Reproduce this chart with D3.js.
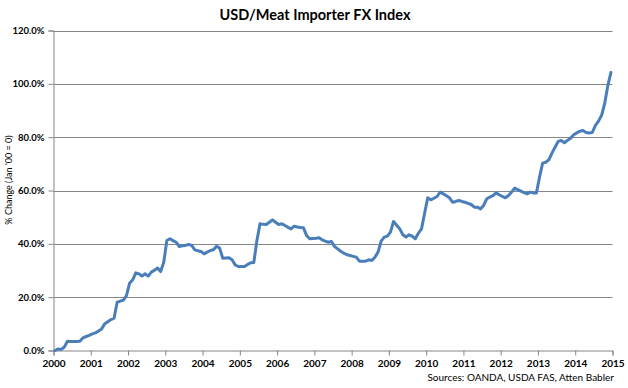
<!DOCTYPE html>
<html>
<head>
<meta charset="utf-8">
<script src="https://cdn.jsdelivr.net/npm/d3@7"></script>
<style>
  html, body { margin: 0; padding: 0; background: #fff; }
  svg { display: block; font-family: Lato, "Open Sans", "Liberation Sans", sans-serif; }
</style>
</head>
<body>
<svg id="chart" width="628" height="388"></svg>
<script>
// ---- Data (monthly, Jan 2000 – Dec 2014; % change vs Jan '00) ----
const startYear = 2000;
const v2000 = [0, 0.6, 0.4, 1.3, 3.5, 3.4, 3.4, 3.4, 3.5, 4.75, 5.25, 5.7];
const v2001 = [6.25, 6.6, 7.3, 8.1, 10.0, 10.8, 11.6, 12.1, 18.1, 18.5, 18.9, 20.6];
const v2002 = [25.25, 26.5, 29.1, 28.75, 27.9, 28.75, 27.9, 29.4, 30.1, 30.9, 29.6, 33.1];
const v2003 = [41.25, 41.9, 41.2, 40.6, 39.0, 39.3, 39.4, 39.75, 39.4, 37.75, 37.4, 37.1];
const v2004 = [36.25, 36.9, 37.5, 37.75, 39.1, 38.4, 34.6, 34.7, 34.75, 34.0, 32.1, 31.5];
const v2005 = [31.5, 31.5, 32.25, 32.9, 33.0, 41.25, 47.5, 47.3, 47.25, 48.1, 49.0, 48.1];
const v2006 = [47.25, 47.5, 46.9, 46.2, 45.6, 46.6, 46.3, 46.1, 46.0, 43.1, 41.9, 42.0];
const v2007 = [42.1, 42.25, 41.5, 41.0, 40.6, 40.9, 39.0, 38.1, 37.2, 36.5, 35.9, 35.6];
const v2008 = [35.3, 35.0, 33.5, 33.5, 33.5, 34.0, 33.75, 35.0, 36.9, 41.0, 42.5, 42.9];
const v2009 = [44.4, 48.4, 47.0, 45.6, 43.4, 42.5, 43.4, 42.9, 41.9, 44.0, 45.6, 51.5];
const v2010 = [57.25, 56.5, 57.1, 57.75, 59.4, 58.75, 58.0, 57.25, 55.6, 55.9, 56.25, 55.9];
const v2011 = [55.6, 55.2, 54.75, 53.75, 53.75, 53.1, 54.4, 56.9, 57.5, 58.1, 59.1, 58.4];
const v2012 = [57.8, 57.25, 58.1, 59.4, 60.9, 60.3, 59.75, 59.2, 58.75, 59.4, 59.1, 59.1];
const v2013 = [65.0, 70.25, 70.6, 71.5, 74.0, 76.2, 78.4, 78.75, 77.9, 78.8, 79.6, 80.9];
const v2014 = [81.6, 82.25, 82.5, 81.75, 81.6, 81.75, 84.4, 86.0, 88.2, 92.8, 99.3, 104.3];

const xTickYears = [2000,2001,2002,2003,2004,2005,2006,2007,2008,2009,2010,2011,2012,2013,2014,2015];
const yTickValues = [0, 20, 40, 60, 80, 100, 120];

const titleText = "USD/Meat Importer FX Index";
const yAxisTitle = "% Change (Jan '00 = 0)";
const sourceText = "Sources: OANDA, USDA FAS, Atten Babler";

// ---- Build series (points placed mid-month) ----
const yearly = [v2000, v2001, v2002, v2003, v2004, v2005, v2006, v2007, v2008, v2009, v2010, v2011, v2012, v2013, v2014];
const series = [];
yearly.forEach((arr, yi) => arr.forEach((v, mi) => series.push({ t: startYear + yi + (mi + 0.5) / 12, v })));

// ---- Layout ----
const svg = d3.select("#chart");
const W = 628, H = 388;
const plot = { left: 53.5, right: 612.5, top: 30.5, bottom: 350.5 };
const gridColor = "#868686";

const x = d3.scaleLinear().domain([2000, 2015]).range([plot.left, plot.right]);
const y = d3.scaleLinear().domain([0, 120]).range([plot.bottom, plot.top]);

svg.append("rect").attr("width", W).attr("height", H).attr("fill", "#fff");

// Gridlines
svg.append("g")
  .selectAll("line")
  .data(yTickValues.filter(d => d > 0))
  .join("line")
  .attr("x1", plot.left).attr("x2", plot.right)
  .attr("y1", d => Math.round(y(d)) + 0.5).attr("y2", d => Math.round(y(d)) + 0.5)
  .attr("stroke", gridColor).attr("stroke-width", 1);

// Y axis
const yAxis = d3.axisLeft(y).tickValues(yTickValues).tickSize(5).tickPadding(4)
  .tickFormat(d => d.toFixed(1) + "%");
const gy = svg.append("g").attr("transform", `translate(${plot.left},0)`).call(yAxis);
gy.select(".domain").attr("stroke", gridColor);
gy.selectAll(".tick line").attr("stroke", gridColor);
gy.selectAll(".tick text").attr("font-size", 9.5).attr("font-weight", "bold").attr("fill", "#000")
  .attr("font-family", "Lato, sans-serif");

// X axis
const xAxis = d3.axisBottom(x).tickValues(xTickYears).tickSize(5).tickPadding(4)
  .tickFormat(d3.format("d"));
const gx = svg.append("g").attr("transform", `translate(0,${plot.bottom})`).call(xAxis);
gx.select(".domain").attr("stroke", gridColor);
gx.selectAll(".tick line").attr("stroke", gridColor);
gx.selectAll(".tick text").attr("font-size", 10).attr("font-weight", "bold").attr("fill", "#000")
  .attr("font-family", "Lato, sans-serif");

// Line
const line = d3.line().x(d => x(d.t)).y(d => y(d.v));
svg.append("path").datum(series)
  .attr("d", line)
  .attr("fill", "none")
  .attr("stroke", "#4a7ebb")
  .attr("stroke-width", 3)
  .attr("stroke-linejoin", "round")
  .attr("stroke-linecap", "round");

// Title
svg.append("text").attr("x", 315).attr("y", 20).attr("text-anchor", "middle")
  .attr("font-size", 14.5).attr("font-weight", "bold").attr("fill", "#000").text(titleText);

// Y axis title
svg.append("text").attr("transform", `translate(12,180) rotate(-90)`)
  .attr("text-anchor", "middle").attr("font-size", 9).attr("fill", "#000").text(yAxisTitle);

// Source
svg.append("text").attr("x", 614).attr("y", 381).attr("text-anchor", "end")
  .attr("font-size", 10).attr("fill", "#000").text(sourceText);
</script>
</body>
</html>
